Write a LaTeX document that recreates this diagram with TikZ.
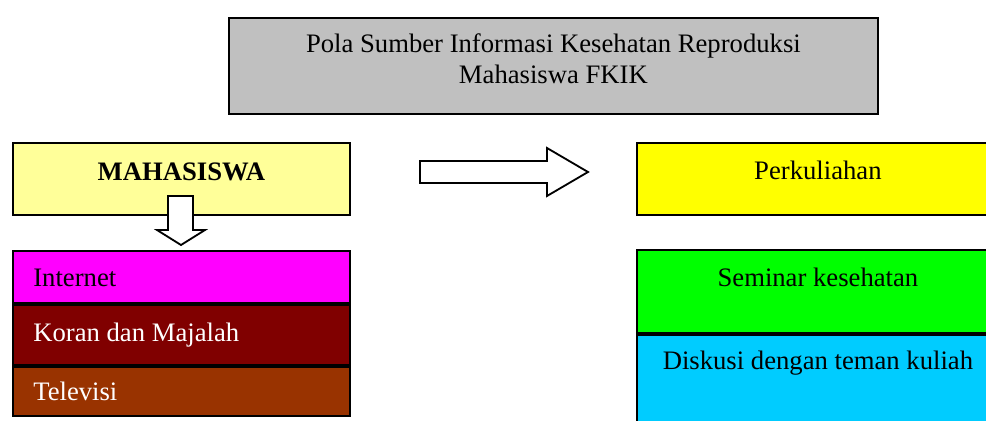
\documentclass[tikz,border=0pt]{standalone}
\usepackage{fontspec}
\setmainfont{Liberation Serif}
\usepackage{tikz}
\usetikzlibrary{positioning}

\definecolor{abu}{RGB}{192,192,192}
\definecolor{kuningmuda}{RGB}{255,255,153}
\definecolor{kuning}{RGB}{255,255,0}
\definecolor{hijau}{RGB}{0,255,0}
\definecolor{biru}{RGB}{0,204,255}
\definecolor{ungu}{RGB}{255,0,255}
\definecolor{marun}{RGB}{128,0,0}
\definecolor{coklat}{RGB}{153,51,0}

\newcommand{\px}{0.6pt}
\tikzset{
	kotak/.style={draw=black, line width=1.1pt, rectangle, inner sep=0pt, anchor=north west},
	tulisan/.style={inner sep=0pt, anchor=base, font=\fontsize{16}{18}\selectfont},
	tulisankiri/.style={tulisan, anchor=base west},
	panah/.style={draw=black, line width=1.1pt, fill=white, line join=miter},
}

\begin{document}
\begin{tikzpicture}[x=0.6pt,y=-0.6pt]
	\useasboundingbox (0,0) rectangle (986,421);
	\clip (0,0) rectangle (986,421);
	% judul
	\node[kotak, fill=abu, minimum width=649*\px, minimum height=96*\px] (judul) at (228,17) {};
	\node[tulisan] (judulteksa) at ([yshift=-21pt]judul.north) {Pola Sumber Informasi Kesehatan Reproduksi};
	\node[tulisan] (judulteksb) at ([yshift=-39.6pt]judul.north) {Mahasiswa FKIK};
	% kiri
	\node[kotak, fill=kuningmuda, minimum width=337*\px, minimum height=72*\px] (mhs) at (12,142) {};
	\node[tulisan, font=\fontsize{16}{18}\selectfont\bfseries] (mhsteks) at ([yshift=-22.8pt]mhs.north) {MAHASISWA};
	\node[kotak, fill=ungu, minimum width=337*\px, minimum height=52*\px] (internet) at (12,250) {};
	\node[kotak, fill=marun, minimum width=337*\px, minimum height=60*\px] (koran) at (internet.south west) {};
	\node[kotak, fill=coklat, minimum width=337*\px, minimum height=49*\px] (tv) at (koran.south west) {};
	\node[tulisankiri] (internetteks) at ([shift={(12.6pt,-21.6pt)}]internet.north west) {Internet};
	\node[tulisankiri, text=white] (koranteks) at ([shift={(12.6pt,-22.8pt)}]koran.north west) {Koran dan Majalah};
	\node[tulisankiri, text=white] (tvteks) at ([shift={(12.6pt,-21pt)}]tv.north west) {Televisi};
	% kanan
	\node[kotak, fill=kuning, minimum width=362*\px, minimum height=72*\px] (kuliah) at (636,142) {};
	\node[kotak, fill=hijau, minimum width=362*\px, minimum height=83*\px] (seminar) at (636,249) {};
	\node[kotak, fill=biru, minimum width=362*\px, minimum height=110*\px] (diskusi) at (seminar.south west) {};
	\node[tulisan] (kuliahteks) at ([yshift=-22.2pt]kuliah.north) {Perkuliahan};
	\node[tulisan] (seminarteks) at ([yshift=-22.2pt]seminar.north) {Seminar kesehatan};
	\node[tulisan] (diskusiteks) at ([yshift=-21.6pt]diskusi.north) {Diskusi dengan teman kuliah};
	% panah
	\coordinate (turun) at (181,196);
	\draw[panah] (turun) ++(-13,0) -- ++(25,0) -- ++(0,34) -- ++(12,0) -- (181,245)
		-- ++(-24,-15) -- ++(11,0) -- cycle;
	\coordinate (kanan) at (420,161);
	\draw[panah] (kanan) -- ++(127,0) -- ++(0,-13) -- (588,172) -- ++(-41,24)
		-- ++(0,-13) -- ++(-127,0) -- cycle;
\end{tikzpicture}
\end{document}
